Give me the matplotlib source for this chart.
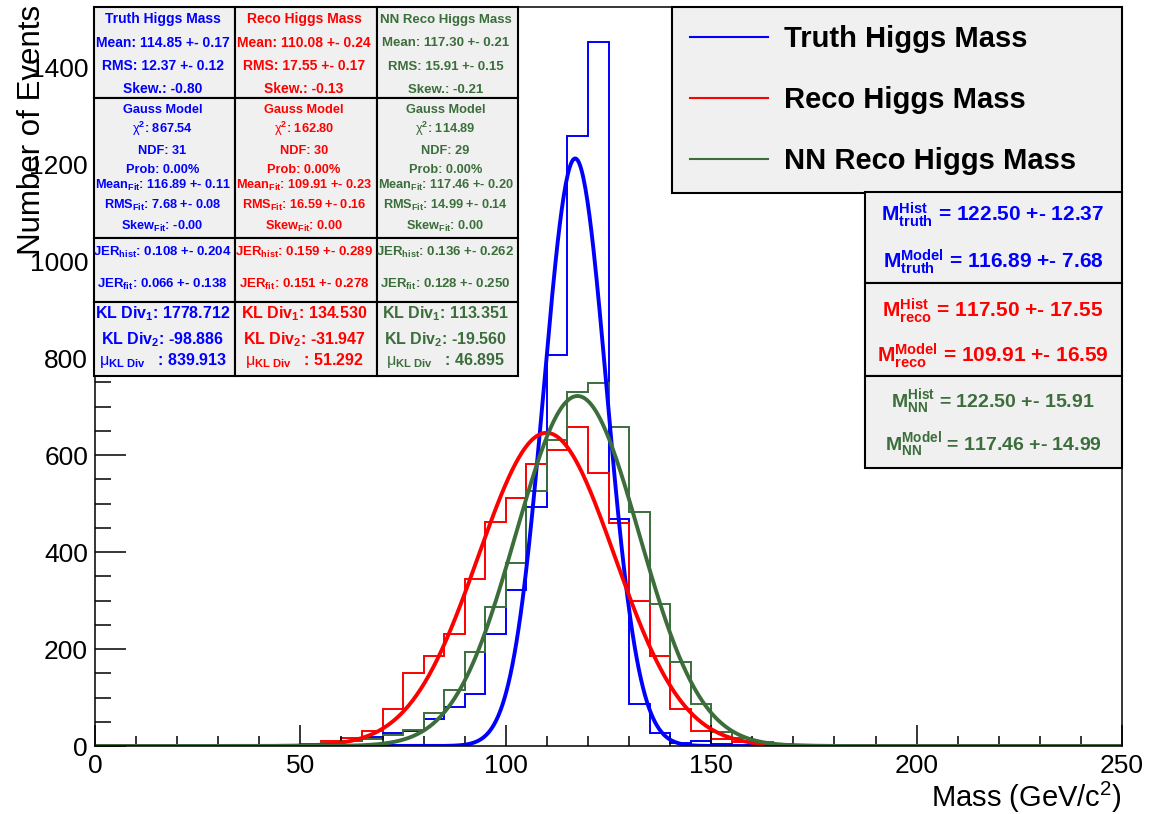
# grafico da massa do higgs: truth, reco e nn reco, com ajuste gaussiano
# e as caixinhas de estatistica no estilo do root

import matplotlib

matplotlib.use("Agg")
import matplotlib.pyplot as plt
import numpy as np
from matplotlib.lines import Line2D
from matplotlib.patches import Rectangle

# bins de 5 GeV entre 0 e 250
bin_lo, bin_hi, bin_width = 0, 250, 5

truth_counts = [0, 0, 0, 0, 0, 0, 0, 0, 1, 3,
                5, 7, 11, 18, 26, 31, 55, 81, 107, 232,
                322, 493, 806, 1258, 1452, 468, 87, 27, 6, 10,
                4, 2, 1, 0, 0, 0, 0, 0, 0, 0,
                0, 0, 0, 0, 0, 0, 0, 0, 0, 0]
reco_counts = [0, 0, 0, 0, 0, 0, 0, 0, 1, 2,
               5, 11, 17, 30, 76, 150, 186, 232, 344, 462,
               512, 581, 610, 658, 563, 460, 300, 186, 76, 31,
               14, 9, 5, 3, 2, 1, 0, 0, 0, 0,
               0, 0, 0, 0, 0, 0, 0, 0, 0, 0]
nn_counts = [0, 0, 0, 0, 0, 0, 0, 0, 0, 1,
             3, 8, 11, 14, 23, 33, 69, 115, 194, 287,
             378, 527, 631, 731, 749, 659, 483, 293, 174, 87,
             28, 16, 8, 5, 3, 3, 2, 2, 1, 0,
             0, 0, 0, 0, 0, 0, 0, 0, 0, 0]

# parametros dos ajustes gaussianos (amplitude, media, sigma)
fit_amp = [1212, 646, 722]
fit_mean = [116.89, 109.91, 117.46]
fit_sigma = [7.68, 16.59, 14.99]

labels = ["Truth Higgs Mass", "Reco Higgs Mass", "NN Reco Higgs Mass"]
colors = ["#0000ff", "#ff0000", "#3b6e3b"]
box_face = "#f0f0f0"

# textos das caixas de estatistica, uma lista por coluna
stats_hist = [
    ["Truth Higgs Mass", "Mean: 114.85 +- 0.17", "RMS: 12.37 +- 0.12", "Skew.: -0.80"],
    ["Reco Higgs Mass", "Mean: 110.08 +- 0.24", "RMS: 17.55 +- 0.17", "Skew.: -0.13"],
    ["NN Reco Higgs Mass", "Mean: 117.30 +- 0.21", "RMS: 15.91 +- 0.15", "Skew.: -0.21"],
]
stats_fit = [
    ["867.54", "31", "116.89 +- 0.11", "7.68 +- 0.08", "-0.00"],
    ["162.80", "30", "109.91 +- 0.23", "16.59 +- 0.16", "0.00"],
    ["114.89", "29", "117.46 +- 0.20", "14.99 +- 0.14", "0.00"],
]
stats_jer = [
    ["0.108 +- 0.204", "0.066 +- 0.138"],
    ["0.159 +- 0.289", "0.151 +- 0.278"],
    ["0.136 +- 0.262", "0.128 +- 0.250"],
]
stats_kl = [
    ["1778.712", "-98.886", "839.913"],
    ["134.530", "-31.947", "51.292"],
    ["113.351", "-19.560", "46.895"],
]
mass_subs = ["truth", "reco", "NN"]
mass_hist = ["122.50 +- 12.37", "117.50 +- 17.55", "122.50 +- 15.91"]
mass_model = ["116.89 +- 7.68", "109.91 +- 16.59", "117.46 +- 14.99"]

plt.rcParams["font.family"] = ["Liberation Sans", "DejaVu Sans"]
plt.rcParams["mathtext.fontset"] = "custom"
plt.rcParams["mathtext.rm"] = "Liberation Sans"
plt.rcParams["mathtext.bf"] = "Liberation Sans:bold"
plt.rcParams["mathtext.it"] = "Liberation Sans:italic"

W, H = 1157, 814


def fx(x):
    # pixel -> fracao da figura (horizontal)
    return x / W


def fy(y):
    # pixel (contado de cima) -> fracao da figura (vertical)
    return 1 - y / H


def draw_box(fig, x0, y0, x1, y1):
    rect = Rectangle((fx(x0), fy(y1)), fx(x1) - fx(x0), fy(y0) - fy(y1),
                     transform=fig.transFigure, facecolor=box_face,
                     edgecolor="black", lw=1.5, zorder=5)
    fig.add_artist(rect)


def put_text(fig, xc, yc, s, color, size):
    # yc eh o centro das maiusculas, converte pra baseline
    yb = yc + 0.358 * size * 100 / 72
    fig.text(fx(xc), fy(yb), s, color=color, fontsize=size,
             fontweight="bold", ha="center", va="baseline", zorder=6)


fig = plt.figure(figsize=(W / 100, H / 100), dpi=100)
ax = fig.add_axes([fx(95), fy(746), fx(1122) - fx(95), fy(6.7) - fy(746)])

edges = np.arange(bin_lo, bin_hi + bin_width, bin_width)
for counts, color in zip([truth_counts, reco_counts, nn_counts], colors):
    ax.stairs(counts, edges, color=color, lw=1.4, baseline=0)

xs = np.linspace(bin_lo, bin_hi, 1000)
for amp, mu, sig, color in zip(fit_amp, fit_mean, fit_sigma, colors):
    ax.plot(xs, amp * np.exp(-0.5 * ((xs - mu) / sig) ** 2), color=color, lw=2.8)

ax.set_xlim(bin_lo, bin_hi)
ax.set_ylim(0, 1525)
ax.set_xticks(np.arange(0, 251, 50))
ax.set_xticks(np.arange(0, 251, 10), minor=True)
ax.set_yticks(np.arange(0, 1401, 200))
ax.set_yticks(np.arange(0, 1501, 50), minor=True)
ax.xaxis.set_tick_params(which="major", direction="in", length=15, width=1.1, labelsize=19, pad=6)
ax.xaxis.set_tick_params(which="minor", direction="in", length=7.5, width=1.1)
ax.yaxis.set_tick_params(which="major", direction="in", length=22, width=1.1, labelsize=19, pad=5)
ax.yaxis.set_tick_params(which="minor", direction="in", length=11.5, width=1.1)
for spine in ax.spines.values():
    spine.set_linewidth(1.1)

ax.text(1.0, (746 - 797) / 740, "Mass (GeV/c$^{2}$)", transform=ax.transAxes,
        ha="right", va="center", fontsize=21)
ax.text((32 - 95) / 1027, 1.0 + 1.5 / 740, "Number of Events", transform=ax.transAxes,
        rotation=90, ha="center", va="top", fontsize=22.5)

# grade de caixas do canto superior esquerdo
col_x = [94, 235, 377, 518]
row_y = [6.7, 98.3, 237.7, 301.7, 376]
row0_y = [18.3, 41.7, 65, 88.3]
row1_y = [108.3, 128.3, 149.3, 168.3, 184.3, 204.3, 225.7]
row2_y = [250.7, 283.3]
row3_y = [312.3, 338.3, 359.3]

for c in range(3):
    for r in range(4):
        draw_box(fig, col_x[c], row_y[r], col_x[c + 1], row_y[r + 1])
    xc = (col_x[c] + col_x[c + 1]) / 2 - 2
    color = colors[c]
    size0 = 9.5 if c == 2 else 10
    for s, y in zip(stats_hist[c], row0_y):
        put_text(fig, xc, y, s, color, size0)
    chi2, ndf, mean_fit, rms_fit, skew_fit = stats_fit[c]
    row1 = ["Gauss Model",
            r"$\mathrm{\chi}^{\mathbf{2}}$: " + chi2,
            "NDF: " + ndf,
            "Prob: 0.00%",
            r"Mean$_{\mathbf{Fit}}$: " + mean_fit,
            r"RMS$_{\mathbf{Fit}}$: " + rms_fit,
            r"Skew$_{\mathbf{Fit}}$: " + skew_fit]
    for s, y in zip(row1, row1_y):
        put_text(fig, xc, y, s, color, 9.2)
    row2 = [r"JER$_{\mathbf{hist}}$: " + stats_jer[c][0],
            r"JER$_{\mathbf{fit}}$: " + stats_jer[c][1]]
    for s, y in zip(row2, row2_y):
        put_text(fig, xc, y, s, color, 9.5)
    row3 = [r"KL Div$_{\mathbf{1}}$: " + stats_kl[c][0],
            r"KL Div$_{\mathbf{2}}$: " + stats_kl[c][1],
            r"$\mathrm{\mu}_{\mathbf{KL\ Div}}$   : " + stats_kl[c][2]]
    for s, y in zip(row3, row3_y):
        put_text(fig, xc, y, s, color, 11.5)

# caixas de massa do lado direito
mass_row_y = [191.7, 283.3, 376, 468.3]
mass_text_y = [[213.3, 261], [310, 355], [400, 443.3]]
for i in range(3):
    draw_box(fig, 865, mass_row_y[i], 1122, mass_row_y[i + 1])
    size = 14 if i == 2 else 15
    sub = mass_subs[i]
    put_text(fig, 993, mass_text_y[i][0],
             r"$\mathbf{M}^{\mathbf{Hist}}_{\mathbf{%s}}$ = %s" % (sub, mass_hist[i]),
             colors[i], size)
    put_text(fig, 993, mass_text_y[i][1],
             r"$\mathbf{M}^{\mathbf{Model}}_{\mathbf{%s}}$ = %s" % (sub, mass_model[i]),
             colors[i], size)

# legenda com linhas finas, igual ao tlegend
handles = [Line2D([], [], color=c, lw=1.5) for c in colors]
leg = ax.legend(handles, labels, loc="upper left",
                bbox_to_anchor=(fx(672), fy(191), fx(1122) - fx(672), fy(6.7) - fy(191)),
                bbox_transform=fig.transFigure, mode="expand", borderaxespad=0,
                prop={"size": 21, "weight": "bold"}, frameon=True, fancybox=False,
                facecolor=box_face, edgecolor="black", framealpha=1,
                handlelength=2.65, handletextpad=0.55, borderpad=0.63, labelspacing=1.13)
leg.get_frame().set_linewidth(1.5)
leg.set_zorder(7)

fig.savefig("out.png", dpi=100)
